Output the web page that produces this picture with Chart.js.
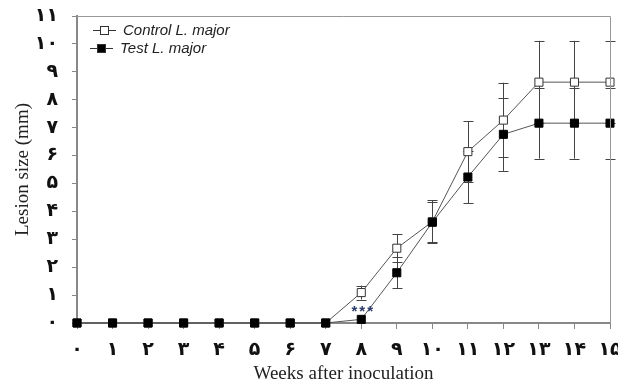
<!DOCTYPE html>
<html><head><meta charset="utf-8">
<script src="https://cdn.jsdelivr.net/npm/chart.js@4"></script>
<style>html,body{margin:0;padding:0;background:#fff}#wrap{width:618px;height:385px}</style>
</head><body><div id="wrap"><canvas id="c" width="618" height="385"></canvas></div>
<script>
const weeks = [0,1,2,3,4,5,6,7,8,9,10,11,12,13,14,15];
const controlValues = [0,0,0,0,0,0,0,0,1.09,2.68,3.63,6.14,7.27,8.63,8.63,8.63];
const controlErrors = [0,0,0,0,0,0,0,0,0.25,0.5,0.77,1.1,1.34,1.48,1.48,1.48];
const testValues = [0,0,0,0,0,0,0,0,0.13,1.80,3.61,5.23,6.76,7.16,7.16,7.16];
const testErrors = [0,0,0,0,0,0,0,0,0,0.56,0.71,0.93,1.31,1.27,1.27,1.27];
const xTickLabels = ['۰','۱','۲','۳','۴','۵','۶','۷','۸','۹','۱۰','۱۱','۱۲','۱۳','۱۴','۱۵'];
const yTickLabels = ['۰','۱','۲','۳','۴','۵','۶','۷','۸','۹','۱۰','۱۱'];
const seriesNames = ['Control L. major','Test L. major'];
const significance = {week: 8, value: 0.5, text: '***'};

const errorBars = {
  id:'errorBars',
  beforeDatasetsDraw(chart){
    const {ctx, scales:{x,y}} = chart;
    ctx.save();
    ctx.strokeStyle = '#444'; ctx.lineWidth = 1;
    chart.data.datasets.forEach(ds=>{
      ds.data.forEach((p,i)=>{
        const e = ds.errors[i]; if(!e) return;
        const px = Math.round(x.getPixelForValue(p.x))+0.5;
        const t = y.getPixelForValue(p.y+e), b = y.getPixelForValue(p.y-e);
        ctx.beginPath();
        ctx.moveTo(px,t); ctx.lineTo(px,b);
        ctx.moveTo(px-5,Math.round(t)+0.5); ctx.lineTo(px+5,Math.round(t)+0.5);
        ctx.moveTo(px-5,Math.round(b)+0.5); ctx.lineTo(px+5,Math.round(b)+0.5);
        ctx.stroke();
      });
    });
    ctx.restore();
  },
  afterDatasetsDraw(chart){
    const {ctx, scales:{x,y}} = chart;
    ctx.save();
    ctx.fillStyle = '#2a3a6a';
    ctx.font = 'bold 15px "Liberation Sans"';
    ctx.letterSpacing = '2px';
    ctx.textAlign='center'; ctx.textBaseline='middle';
    ctx.fillText(significance.text, x.getPixelForValue(significance.week)+2, y.getPixelForValue(significance.value)+3);
    ctx.letterSpacing = '0px';
    // legend
    ctx.font = 'italic 15px "Liberation Sans"';
    ctx.textAlign='left';
    chart.data.datasets.forEach((ds,i)=>{
      const cy = 30 + i*18 + 0.5;
      const lx = i===0 ? 93 : 90;
      ctx.strokeStyle='#333'; ctx.lineWidth=1;
      ctx.beginPath(); ctx.moveTo(lx,cy); ctx.lineTo(lx+23,cy); ctx.stroke();
      const s=8;
      ctx.fillStyle = ds.pointBackgroundColor;
      ctx.fillRect(lx+11.5-s/2, cy-s/2, s, s);
      ctx.strokeRect(lx+11.5-s/2, cy-s/2, s, s);
      ctx.fillStyle='#222';
      ctx.fillText(ds.label, lx+30, cy);
    });
    ctx.restore();
  }
};

new Chart(document.getElementById('c'), {
  type:'line',
  data:{
    datasets:[
      {label:seriesNames[0], data:weeks.map((w,i)=>({x:w,y:controlValues[i]})), errors:controlErrors, order:1,
       borderColor:'#555', borderWidth:1, pointStyle:'rect', pointRadius:5.7, pointBorderWidth:1,
       pointBackgroundColor:'#ffffff', pointBorderColor:'#333', clip:false},
      {label:seriesNames[1], data:weeks.map((w,i)=>({x:w,y:testValues[i]})), errors:testErrors, order:0,
       borderColor:'#555', borderWidth:1, pointStyle:'rect', pointRadius:5.7, pointBorderWidth:1,
       pointBackgroundColor:'#000000', pointBorderColor:'#000', clip:false}
    ]
  },
  options:{
    responsive:false, animation:false,
    layout:{padding:{top:16,right:8,left:0,bottom:0}},
    plugins:{legend:{display:false}, tooltip:{enabled:false}},
    scales:{
      x:{type:'linear', min:0, max:15,
        afterFit(s){s.height=62; s.paddingLeft=0; s.paddingRight=0;},
        border:{color:'#888', width:2},
        grid:{drawOnChartArea:false, drawTicks:true, tickLength:6, color:'#888'},
        ticks:{stepSize:1, autoSkip:false, maxRotation:0, padding:10, color:'#111',
          font:{family:'DejaVu Sans', size:19, weight:'bold'},
          callback:v=>xTickLabels[v]},
        title:{display:true, text:'Weeks after inoculation', color:'#222',
          font:{family:'Liberation Serif', size:19}, padding:{top:2,bottom:0}}
      },
      y:{min:0, max:11,
        afterFit(s){s.width=77; s.paddingTop=0; s.paddingBottom=0;},
        border:{color:'#888', width:2},
        grid:{drawOnChartArea:false, drawTicks:true, tickLength:5, color:'#888'},
        ticks:{stepSize:1, padding:14, color:'#111',
          font:{family:'DejaVu Sans', size:19, weight:'bold'},
          callback:v=>yTickLabels[v]},
        title:{display:true, text:'Lesion size (mm)', color:'#222',
          font:{family:'Liberation Serif', size:19}, padding:{top:12,bottom:4}}
      }
    }
  },
  plugins:[errorBars, {
    id:'frame',
    afterDraw(chart){
      const {ctx, chartArea:a} = chart;
      ctx.save(); ctx.strokeStyle='#999'; ctx.lineWidth=1;
      ctx.beginPath();
      ctx.moveTo(a.left, a.top+0.5); ctx.lineTo(a.right+0.5, a.top+0.5); ctx.lineTo(a.right+0.5, a.bottom);
      ctx.stroke(); ctx.restore();
    }
  }]
});
</script></body></html>
